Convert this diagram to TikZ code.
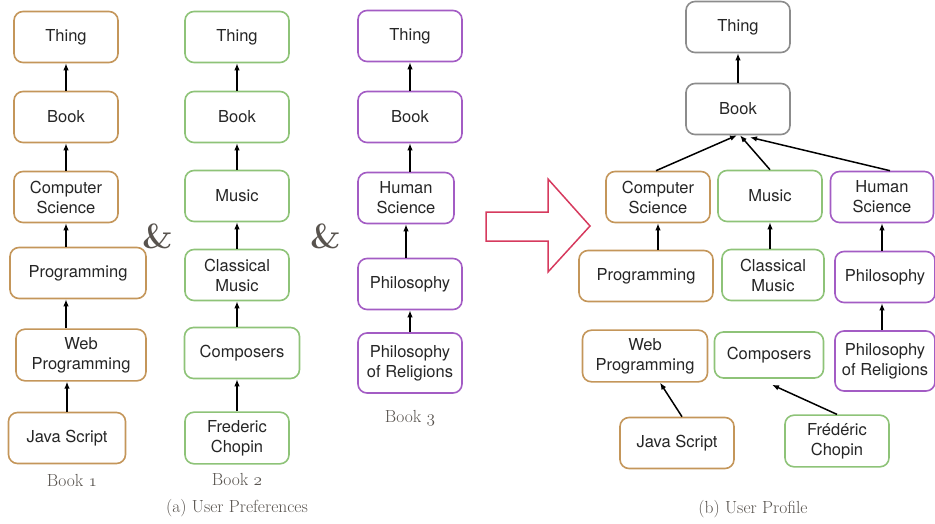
\documentclass[tikz,border=0pt]{standalone}
\usepackage{fontspec}
\newfontfamily\boxfont{TeX Gyre Heros}
\usetikzlibrary{arrows.meta}
\definecolor{bookone}{RGB}{196,150,90}
\definecolor{booktwo}{RGB}{142,195,120}
\definecolor{bookthree}{RGB}{163,92,196}
\definecolor{mixgray}{RGB}{140,140,140}
\definecolor{arrowred}{RGB}{214,58,94}
\definecolor{capgray}{RGB}{88,83,78}
\newcommand\osnum[1]{{\usefont{OML}{cmm}{m}{it}#1}}
\tikzset{
  box/.style={draw, rounded corners=9pt, line width=1.6pt, fill=white,
    align=center, minimum width=104pt, minimum height=51pt,
    inner xsep=5pt, inner ysep=8pt, text=black!85,
    font=\boxfont\fontsize{16.5}{20}\selectfont},
  one/.style={box, draw=bookone},
  two/.style={box, draw=booktwo},
  three/.style={box, draw=bookthree},
  mixbox/.style={box, draw=mixgray},
  isa/.style={-{Latex[length=7pt,width=5.5pt]}, line width=1.5pt},
  caplabel/.style={text=capgray, font=\fontsize{17.5}{20}\selectfont},
  amp/.style={text=capgray, font=\fontsize{35}{35}\selectfont\bfseries}
}
\begin{document}
\begin{tikzpicture}[x=1pt,y=-1pt]
  \useasboundingbox (0,0) rectangle (935,524);
  % Book 1
  \node[one] (thingA) at (66,37) {Thing};
  \node[one] (bookA) at (66,117) {Book};
  \node[one] (csA) at (66,197) {Computer\\Science};
  \node[one, minimum width=136pt] (progA) at (78,273) {Programming};
  \node[one, minimum width=130pt] (webA) at (81,355) {Web\\Programming};
  \node[one, minimum width=117pt] (jsA) at (67,438) {Java Script};
  \node[caplabel] (labA) at (72,480) {Book \osnum{1}};
  \draw[isa] (bookA) -- (thingA);
  \draw[isa] (csA) -- (bookA);
  \draw[isa] (progA.north -| csA) -- (csA.south);
  \draw[isa] (webA.north -| csA) -- (progA.south -| csA);
  \draw[isa] (jsA.north) -- (webA.south -| jsA);
  % Book 2
  \node[two] (thingB) at (237,37) {Thing};
  \node[two] (bookB) at (237,117) {Book};
  \node[two] (musicB) at (237,196) {Music};
  \node[two] (classB) at (237,275) {Classical\\Music};
  \node[two, minimum width=115pt] (compB) at (242,353) {Composers};
  \node[two] (chopinB) at (237,438) {Frederic\\Chopin};
  \node[caplabel] (labB) at (237,479) {Book \osnum{2}};
  \draw[isa] (bookB) -- (thingB);
  \draw[isa] (musicB) -- (bookB);
  \draw[isa] (classB) -- (musicB);
  \draw[isa] (compB.north -| classB) -- (classB.south);
  \draw[isa] (chopinB.north) -- (compB.south -| chopinB);
  % Book 3
  \node[three] (thingC) at (410,36) {Thing};
  \node[three] (bookC) at (410,117) {Book};
  \node[three, minimum width=96pt] (hsC) at (406,198) {Human\\Science};
  \node[three] (philC) at (410,284) {Philosophy};
  \node[three, minimum height=60pt] (relC) at (410,363) {Philosophy\\of Religions};
  \node[caplabel] (labC) at (410,418) {Book \osnum{3}};
  \draw[isa] (bookC) -- (thingC);
  \draw[isa] (hsC.north -| bookC) -- (bookC.south);
  \draw[isa] (philC.north -| hsC) -- (hsC.south);
  \draw[isa] (relC) -- (philC);
  \node[amp] (andA) at (158,236) {\&};
  \node[amp] (andB) at (326,236) {\&};
  \node[caplabel] (capA) at (237,508) {(a) User Preferences};
  % merge arrow
  \draw[arrowred, line width=1.5pt, line join=miter]
    (486,212) -- (548,212) -- (548,179) -- (590,226) -- (548,272)
    -- (548,241) -- (486,241) -- cycle;
  % user profile
  \node[mixbox] (thingR) at (738,27) {Thing};
  \node[mixbox] (bookR) at (738,109) {Book};
  \node[one] (csR) at (658,197) {Computer\\Science};
  \node[two] (musicR) at (770,196) {Music};
  \node[three, minimum width=103pt] (hsR) at (882,197) {Human\\Science};
  \node[one, minimum width=134pt] (progR) at (646,276) {Programming};
  \node[two, minimum width=102pt] (classR) at (773,275) {Classical\\Music};
  \node[three, minimum width=100pt] (philR) at (885,277) {Philosophy};
  \node[one, minimum width=125pt] (webR) at (645,356) {Web\\Programming};
  \node[two, minimum width=109pt, minimum height=46pt] (compR) at (769,355) {Composers};
  \node[three, minimum width=100pt, minimum height=60pt] (relR) at (885,361) {Philosophy\\of Religions};
  \node[one, minimum width=114pt] (jsR) at (677,443) {Java Script};
  \node[two] (chopinR) at (837,441) {Frédéric\\Chopin};
  \node[caplabel] (capB) at (753,509) {(b) User Profile};
  \draw[isa] (bookR) -- (thingR);
  \draw[isa] ([xshift=-2pt]csR.north) -- ([xshift=-1pt]bookR.south);
  \draw[isa] (musicR.north) -- ([xshift=2pt]bookR.south);
  \draw[isa] ([xshift=8pt]hsR.north) -- ([xshift=12pt,yshift=-2pt]bookR.south);
  \draw[isa] (progR.north -| csR) -- (csR.south);
  \draw[isa] (classR.north -| musicR) -- (musicR.south);
  \draw[isa] (philR.north -| hsR) -- (hsR.south);
  \draw[isa] ([xshift=5pt]jsR.north) -- ([xshift=15pt]webR.south);
  \draw[isa] (chopinR.north) -- ([xshift=3pt,yshift=-6pt]compR.south);
  \draw[isa] (relR.north -| hsR) -- (philR.south -| hsR);
\end{tikzpicture}
\end{document}
